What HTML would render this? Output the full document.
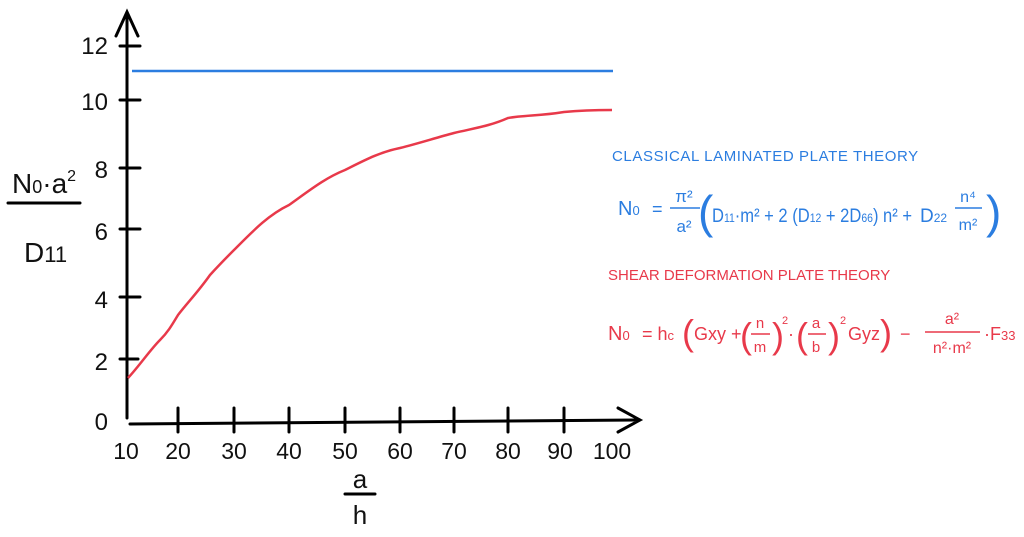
<!DOCTYPE html>
<html><head><meta charset="utf-8"><style>
body{margin:0;background:#fff;width:1024px;height:537px;overflow:hidden}
svg{display:block}
text{font-family:"Liberation Sans",sans-serif}
</style></head><body>
<svg width="1024" height="537" viewBox="0 0 1024 537">
<g stroke="#000" stroke-width="3" fill="none" stroke-linecap="round">
<path d="M127 418 L127 12 M116 36 L127 12 L138 36"/>
<path d="M130 424 L640 420 M618 408 L640 420 L618 432"/>
<path d="M120 46 H140 M120 100 H140 M120 168 H140 M120 229 H140 M120 297 H140 M120 359 H138"/>
<path d="M178 408 V432 M234 408 V432 M289 408 V432 M345 408 V432 M400 408 V432 M454 408 V432 M508 408 V432 M564 408 V432"/>
<path d="M8 203 H80 M345 494 H375"/>
</g>
<g font-size="24" fill="#111" text-anchor="end">
<text x="108" y="54">12</text><text x="108" y="110">10</text><text x="108" y="178">8</text>
<text x="108" y="240">6</text><text x="108" y="308">4</text><text x="108" y="370">2</text><text x="108" y="430">0</text>
</g>
<g font-size="23" fill="#111" text-anchor="middle">
<text x="126" y="459">10</text><text x="178" y="459">20</text><text x="234" y="459">30</text><text x="289" y="459">40</text>
<text x="345" y="459">50</text><text x="400" y="459">60</text><text x="454" y="459">70</text><text x="508" y="459">80</text>
<text x="560" y="459">90</text><text x="612" y="459">100</text>
<text x="360" y="488" font-size="26">a</text><text x="360" y="524" font-size="26">h</text>
</g>
<text x="12" y="193" font-size="28" fill="#111">N<tspan font-size="18">0</tspan>·a<tspan font-size="16" dy="-12">2</tspan></text>
<text x="24" y="262" font-size="28" fill="#111">D<tspan font-size="22">11</tspan></text>
<path d="M132 71 H613" stroke="#2b7de0" stroke-width="2.5"/>
<path d="M128 378 C140 365 150 350 160 340 C168 332 172 325 178 315 C188 302 198 292 210 275 C220 264 226 258 234 250 C252 232 268 215 289 205 C310 190 325 178 345 170 C365 160 380 152 400 148 C420 143 435 138 454 133 C475 128 490 126 508 118 C525 115 540 116 564 112 C585 110 600 110 612 110" stroke="#e8394a" stroke-width="2.5" fill="none"/>
<g fill="#2b7de0">
<text x="612" y="161" font-size="15" letter-spacing="0.6">CLASSICAL LAMINATED PLATE THEORY</text>
<text x="618" y="215" font-size="20">N<tspan font-size="13">0</tspan></text>
<text x="652" y="215" font-size="18">=</text>
<text x="684" y="202" font-size="17" text-anchor="middle">π²</text>
<path d="M670 208 H700" stroke="#2b7de0" stroke-width="1.5"/>
<text x="684" y="232" font-size="17" text-anchor="middle">a²</text>
<text x="698" y="228" font-size="46" font-weight="300">(</text>
<text x="712" y="222" font-size="19" textLength="200" lengthAdjust="spacingAndGlyphs">D<tspan font-size="12">11</tspan>·m² + 2 (D<tspan font-size="12">12</tspan> + 2D<tspan font-size="12">66</tspan>) n² +</text>
<text x="920" y="222" font-size="19">D<tspan font-size="12">22</tspan></text>
<text x="968" y="202" font-size="16" text-anchor="middle">n⁴</text>
<path d="M955 208 H982" stroke="#2b7de0" stroke-width="1.5"/>
<text x="968" y="230" font-size="16" text-anchor="middle">m²</text>
<text x="986" y="228" font-size="46" font-weight="300">)</text>
</g>
<g fill="#e8394a">
<text x="608" y="280" font-size="15" letter-spacing="0">SHEAR DEFORMATION PLATE THEORY</text>
<text x="608" y="340" font-size="20">N<tspan font-size="13">0</tspan></text>
<text x="642" y="340" font-size="18">= h<tspan font-size="13">c</tspan></text>
<text x="682" y="345" font-size="36" font-weight="300">(</text>
<text x="694" y="340" font-size="18">Gxy +</text>
<text x="740" y="348" font-size="36" font-weight="300">(</text>
<text x="760" y="328" font-size="15" text-anchor="middle">n</text>
<path d="M751 334 H770" stroke="#e8394a" stroke-width="1.5"/>
<text x="760" y="352" font-size="15" text-anchor="middle">m</text>
<text x="772" y="348" font-size="36" font-weight="300">)</text>
<text x="782" y="324" font-size="11">2</text>
<text x="788" y="340" font-size="18">·</text>
<text x="796" y="348" font-size="36" font-weight="300">(</text>
<text x="816" y="328" font-size="15" text-anchor="middle">a</text>
<path d="M808 334 H826" stroke="#e8394a" stroke-width="1.5"/>
<text x="816" y="352" font-size="15" text-anchor="middle">b</text>
<text x="828" y="348" font-size="36" font-weight="300">)</text>
<text x="840" y="324" font-size="11">2</text>
<text x="848" y="340" font-size="18">Gyz</text>
<text x="880" y="345" font-size="36" font-weight="300">)</text>
<text x="900" y="340" font-size="18">−</text>
<text x="952" y="324" font-size="16" text-anchor="middle">a²</text>
<path d="M925 332 H980" stroke="#e8394a" stroke-width="1.5"/>
<text x="952" y="353" font-size="16" text-anchor="middle">n²·m²</text>
<text x="984" y="340" font-size="18">·F<tspan font-size="13">33</tspan></text>
</g>
</svg>
</body></html>
